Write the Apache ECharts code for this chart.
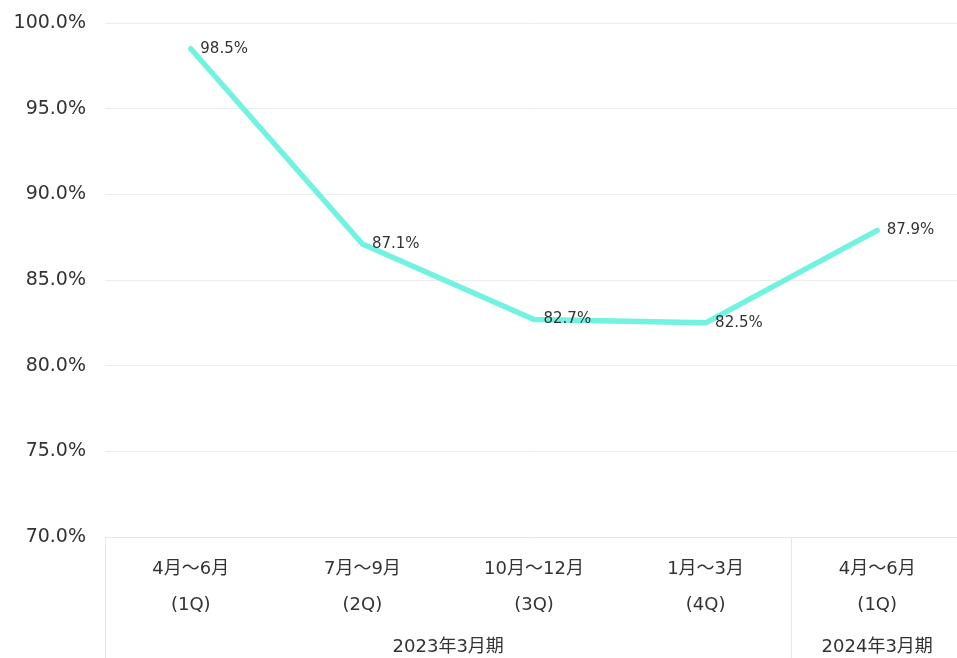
<!DOCTYPE html>
<html>
<head>
<meta charset="utf-8">
<script src="https://cdn.jsdelivr.net/npm/echarts@6/dist/echarts.min.js"></script>
<style>
  html, body { margin: 0; padding: 0; background: #fff; }
  #chart { width: 957px; height: 658px; }
</style>
</head>
<body>
<div id="chart"></div>
<script>
// 四半期ラベルと値
const quarters = ['4月〜6月\n(1Q)', '7月〜9月\n(2Q)', '10月〜12月\n(3Q)', '1月〜3月\n(4Q)', '4月〜6月\n(1Q)'];
const rates = [98.5, 87.1, 82.7, 82.5, 87.9];
// 決算期グループ (位置はカテゴリ境界の値)
const periodNames = ['2023年3月期', '2024年3月期'];
const periodCenters = [2, 4.5];
const periodBounds = [0, 4];

const font = '"DejaVu Sans", "Noto Sans CJK JP", sans-serif';
const chart = echarts.init(document.getElementById('chart'));

const option = {
    animation: false,
    grid: {
        left: 105,
        width: 858,
        top: 23,
        bottom: 121,
        outerBoundsMode: 'none'
    },
    xAxis: [
        {
            type: 'category',
            data: quarters,
            boundaryGap: true,
            axisLine: { show: true, lineStyle: { color: '#e8e8e8', width: 1 } },
            axisTick: { show: false },
            axisLabel: {
                color: '#333',
                fontSize: 18,
                fontFamily: font,
                lineHeight: 36,
                margin: 14,
                interval: 0
            }
        },
        {
            type: 'value',
            position: 'bottom',
            min: 0,
            max: 5,
            interval: 0.5,
            axisLine: { show: false },
            splitLine: { show: false },
            axisTick: {
                show: true,
                customValues: periodBounds,
                length: 125,
                lineStyle: { color: '#e8e8e8', width: 1 }
            },
            axisLabel: {
                customValues: periodCenters,
                color: '#333',
                fontSize: 18,
                fontFamily: font,
                margin: 101,
                formatter: v => periodNames[periodCenters.indexOf(v)] || ''
            }
        }
    ],
    yAxis: {
        type: 'value',
        min: 70,
        max: 100,
        interval: 5,
        axisLine: { show: false },
        axisTick: { show: false },
        splitLine: { lineStyle: { color: '#ececec', width: 1 } },
        axisLabel: {
            color: '#333',
            fontSize: 19,
            fontFamily: font,
            margin: 19,
            formatter: v => v.toFixed(1) + '%'
        }
    },
    series: [
        {
            type: 'line',
            xAxisIndex: 0,
            data: rates,
            symbol: 'circle',
            symbolSize: 1,
            itemStyle: { color: '#72f2e0' },
            lineStyle: { color: '#72f2e0', width: 5.5, cap: 'round', join: 'round' },
            label: {
                show: true,
                position: 'right',
                distance: 9,
                color: '#333',
                fontSize: 15,
                fontFamily: font,
                formatter: p => p.value.toFixed(1) + '%'
            }
        }
    ]
};
chart.setOption(option);
</script>
</body>
</html>
